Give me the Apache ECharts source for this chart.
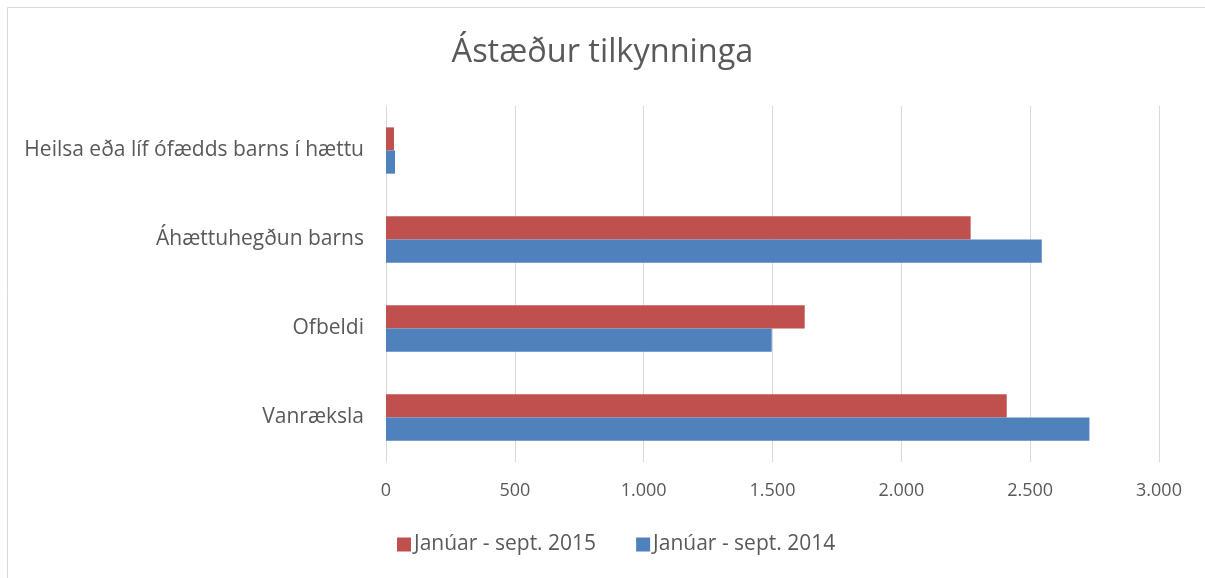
<!DOCTYPE html>
<html>
<head>
<meta charset="utf-8">
<script src="https://cdn.jsdelivr.net/npm/echarts@6/dist/echarts.min.js"></script>
<style>
html,body{margin:0;padding:0;background:#fff;}
#chart{width:1205px;height:578px;}
</style>
</head>
<body>
<div id="chart"></div>
<script>
const title = 'Ástæður tilkynninga';
const categories = ['Vanræksla', 'Ofbeldi', 'Áhættuhegðun barns', 'Heilsa eða líf ófædds barns í hættu'];
const series2014Name = 'Janúar - sept. 2014';
const series2015Name = 'Janúar - sept. 2015';
const values2014 = [2730, 1497, 2545, 35];
const values2015 = [2409, 1625, 2269, 31];
const xTicks = {min: 0, max: 3000, interval: 500};

const fontFam = '"Open Sans", "Liberation Sans", sans-serif';
const textColor = '#595959';

const chart = echarts.init(document.getElementById('chart'), null, {renderer: 'canvas'});
chart.setOption({
  animation: false,
  backgroundColor: '#fff',
  title: {
    text: title,
    left: 'center',
    top: 31,
    textStyle: {fontFamily: fontFam, fontSize: 32.5, fontWeight: 'normal', color: textColor}
  },
  graphic: [{
    type: 'polyline',
    shape: {points: [[7.5, 590], [7.5, 7.5], [1210, 7.5]]},
    style: {stroke: '#d9d9d9', lineWidth: 1, fill: null},
    silent: true
  }],
  legend: {
    bottom: 18,
    left: 392,
    itemWidth: 14,
    itemHeight: 14,
    itemGap: 40,
    icon: 'rect',
    data: [series2015Name, series2014Name],
    textStyle: {fontFamily: fontFam, fontSize: 21, color: textColor, padding: [0, 0, 0, -2]}
  },
  grid: {left: 386, right: 46, top: 106, bottom: 116, containLabel: false},
  xAxis: {
    type: 'value',
    min: xTicks.min, max: xTicks.max, interval: xTicks.interval,
    axisLine: {show: false},
    axisTick: {show: false},
    splitLine: {lineStyle: {color: '#d9d9d9', width: 1}},
    axisLabel: {
      fontFamily: fontFam, fontSize: 18, color: textColor, margin: 20,
      formatter: v => v.toString().replace(/\B(?=(\d{3})+(?!\d))/g, '.')
    }
  },
  yAxis: {
    type: 'category',
    data: categories,
    axisLine: {show: true, lineStyle: {color: '#d9d9d9', width: 1}},
    axisTick: {show: false},
    axisLabel: {fontFamily: fontFam, fontSize: 21, color: textColor, margin: 22}
  },
  series: [
    {
      name: series2015Name, type: 'bar', data: values2015,
      itemStyle: {color: '#C0504D'},
      barGap: '0%', barCategoryGap: '48%'
    },
    {
      name: series2014Name, type: 'bar', data: values2014,
      itemStyle: {color: '#4F81BD'},
      barGap: '0%', barCategoryGap: '48%'
    }
  ]
});
</script>
</body>
</html>
